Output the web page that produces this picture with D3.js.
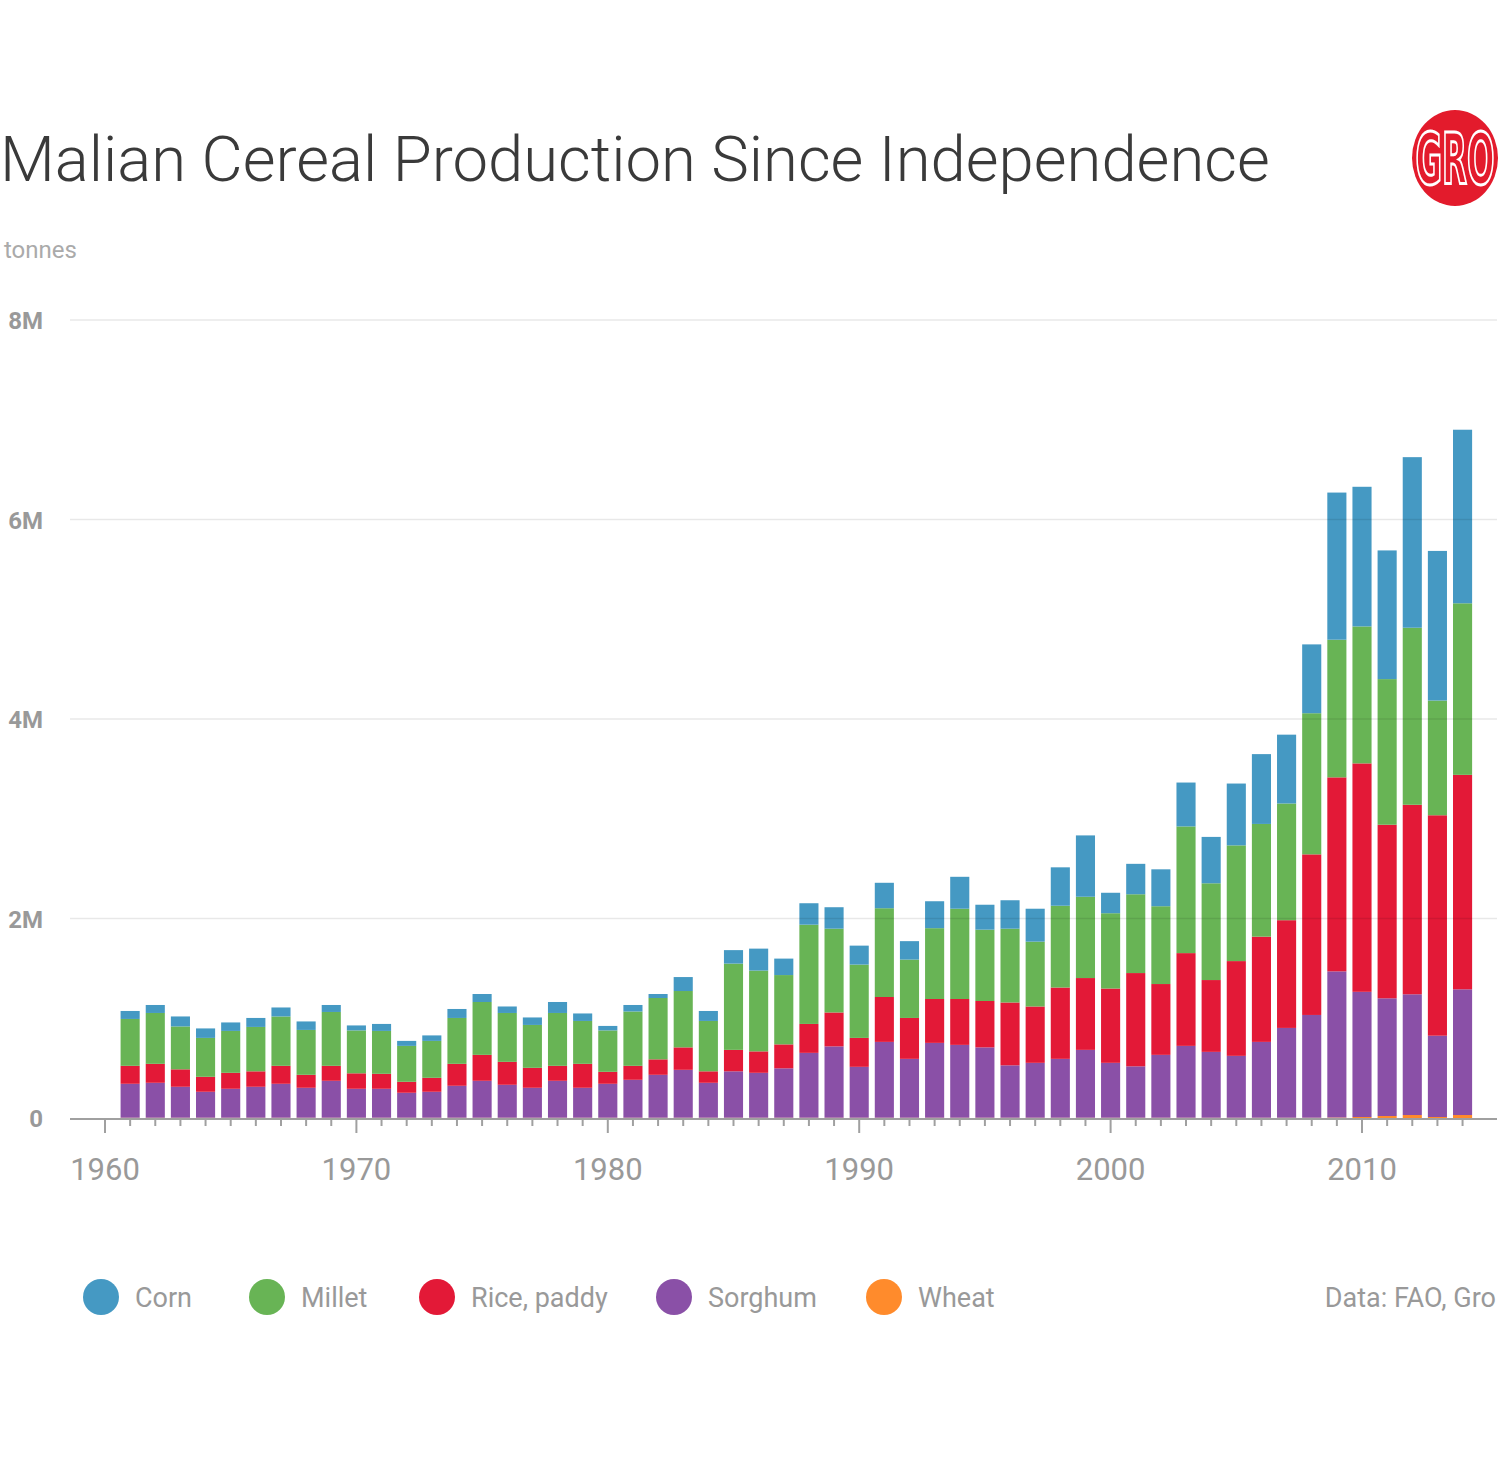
<!DOCTYPE html>
<html><head><meta charset="utf-8">
<script src="https://cdn.jsdelivr.net/npm/d3@7"></script>
<style>body{margin:0;background:#fff} svg{display:block;font-family:Roboto,"Noto Sans",sans-serif}</style>
</head><body><svg id="c" width="1500" height="1469"></svg>
<script>
// ---- data (thousand tonnes) ----
const years = [1961,1962,1963,1964,1965,1966,1967,1968,1969,1970,1971,1972,1973,1974,1975,1976,1977,1978,1979,1980,1981,1982,1983,1984,1985,1986,1987,1988,1989,1990,1991,1992,1993,1994,1995,1996,1997,1998,1999,2000,2001,2002,2003,2004,2005,2006,2007,2008,2009,2010,2011,2012,2013,2014];
const wheat   = [3,3,3,3,3,3,3,3,3,3,3,3,3,3,3,3,3,3,3,3,3,3,3,3,3,3,3,3,3,3,3,3,3,3,3,3,3,3,3,3,3,3,3,3,3,3,3,3,5,10,20,30,10,30];
const sorghum = [340,350,310,260,290,310,340,300,370,290,290,250,260,320,370,330,300,370,300,340,380,430,480,350,465,450,495,650,715,510,760,590,750,730,705,525,550,590,680,550,515,630,720,660,620,760,900,1030,1465,1255,1180,1210,815,1260];
const rice    = [180,190,175,150,160,155,180,130,150,155,150,110,140,220,260,230,200,150,240,120,140,155,225,115,215,215,240,290,340,290,450,410,440,460,465,630,565,715,720,745,935,710,930,720,950,1055,1080,1610,1945,2290,1740,1900,2210,2150];
const millet  = [470,510,430,390,420,445,495,450,540,430,430,360,370,460,530,490,430,530,430,415,545,615,565,505,865,810,695,995,840,735,890,585,710,905,715,740,650,820,815,755,790,780,1270,970,1160,1130,1170,1415,1380,1373,1460,1775,1150,1720];
const corn    = [80,80,100,95,85,90,90,85,70,50,70,50,55,90,80,65,75,110,75,45,65,40,140,100,135,220,165,215,215,190,255,185,270,320,250,285,330,385,615,205,305,370,440,465,620,700,690,690,1475,1400,1290,1710,1500,1740];
const seriesNames  = ["Corn","Millet","Rice, paddy","Sorghum","Wheat"];
const seriesColors = ["#4599c3","#68b455","#e31937","#8a50a7","#ff8b2c"];
const yTicks = [0, 2e6, 4e6, 6e6, 8e6];
const yTickLabels = ["0","2M","4M","6M","8M"];
const xTickLabels = [1960,1970,1980,1990,2000,2010];

const rows = years.map((y,i)=>({year:y, "Wheat":wheat[i]*1000, "Sorghum":sorghum[i]*1000,
  "Rice, paddy":rice[i]*1000, "Millet":millet[i]*1000, "Corn":corn[i]*1000}));
const stackKeys = ["Wheat","Sorghum","Rice, paddy","Millet","Corn"];
const color = d3.scaleOrdinal().domain(seriesNames).range(seriesColors);

const svg = d3.select("#c");
const x = d3.scaleLinear().domain([1960, 2010]).range([105, 1362]);
const y = d3.scaleLinear().domain([0, 8e6]).range([1118, 320]);
const left = 70, right = 1497;
const barW = (x(1961)-x(1960))*0.76;

// title
svg.append("text").attr("x",0).attr("y",181).attr("font-size",63.4).attr("font-weight",300)
  .attr("fill","#3a3a3a").text("Malian Cereal Production Since Independence");
svg.append("text").attr("x",4).attr("y",258).attr("font-size",24).attr("fill","#aaaaaa").text("tonnes");

// logo
const logo = svg.append("g").attr("transform","translate(1455,158)");
logo.append("ellipse").attr("rx",43).attr("ry",48).attr("fill","#e31b2c");
logo.append("text").attr("text-anchor","middle").attr("y",26)
  .attr("transform","scale(0.5,1)").attr("font-size",72).attr("font-weight",700)
  .attr("font-family","'Liberation Sans Narrow','DejaVu Sans Condensed',sans-serif")
  .attr("fill","#e31b2c").attr("stroke","#fff").attr("stroke-width",3).text("GRO");

// bars
const stacked = d3.stack().keys(stackKeys)(rows);
svg.append("g").selectAll("g").data(stacked).join("g").attr("fill",d=>color(d.key))
  .selectAll("rect").data(d=>d).join("rect")
  .attr("x",d=>x(d.data.year)-barW/2).attr("width",barW)
  .attr("y",d=>y(d[1])).attr("height",d=>Math.max(0,y(d[0])-y(d[1])));

// grid
const grid = svg.append("g");
grid.selectAll("line").data(yTicks.slice(1)).join("line")
  .attr("x1",left).attr("x2",right).attr("y1",d=>y(d)).attr("y2",d=>y(d))
  .attr("stroke","rgba(0,0,0,0.09)").attr("stroke-width",1.5);
svg.append("g").selectAll("text").data(yTicks).join("text")
  .attr("x",43).attr("y",d=>y(d)+9).attr("text-anchor","end").attr("font-size",24)
  .attr("font-weight",700).attr("fill","#999").text((d,i)=>yTickLabels[i]);

// x axis
const ax = svg.append("g");
ax.append("line").attr("x1",left).attr("x2",right).attr("y1",y(0)+1).attr("y2",y(0)+1)
  .attr("stroke","#a0a0a0").attr("stroke-width",2);
const allTicks = [1960].concat(years);
ax.selectAll("line.t").data(allTicks).join("line").attr("class","t")
  .attr("x1",d=>x(d)).attr("x2",d=>x(d)).attr("y1",y(0)+1)
  .attr("y2",d=>y(0)+(d%10===0?15:8)).attr("stroke","#a0a0a0").attr("stroke-width",2);
ax.selectAll("text").data(xTickLabels).join("text").attr("x",d=>x(d)).attr("y",1180)
  .attr("text-anchor","middle").attr("font-size",31).attr("fill","#999").text(d=>d);

// legend
const legX = [101,267,437,674,884];
const lg = svg.append("g").selectAll("g").data(seriesNames).join("g")
  .attr("transform",(d,i)=>`translate(${legX[i]},1297)`);
lg.append("circle").attr("r",18).attr("fill",d=>color(d));
lg.append("text").attr("x",34).attr("y",10).attr("font-size",27).attr("fill","#999").text(d=>d);
svg.append("text").attr("x",1496).attr("y",1307).attr("text-anchor","end").attr("font-size",27)
  .attr("fill","#999").text("Data: FAO, Gro");
</script></body></html>
